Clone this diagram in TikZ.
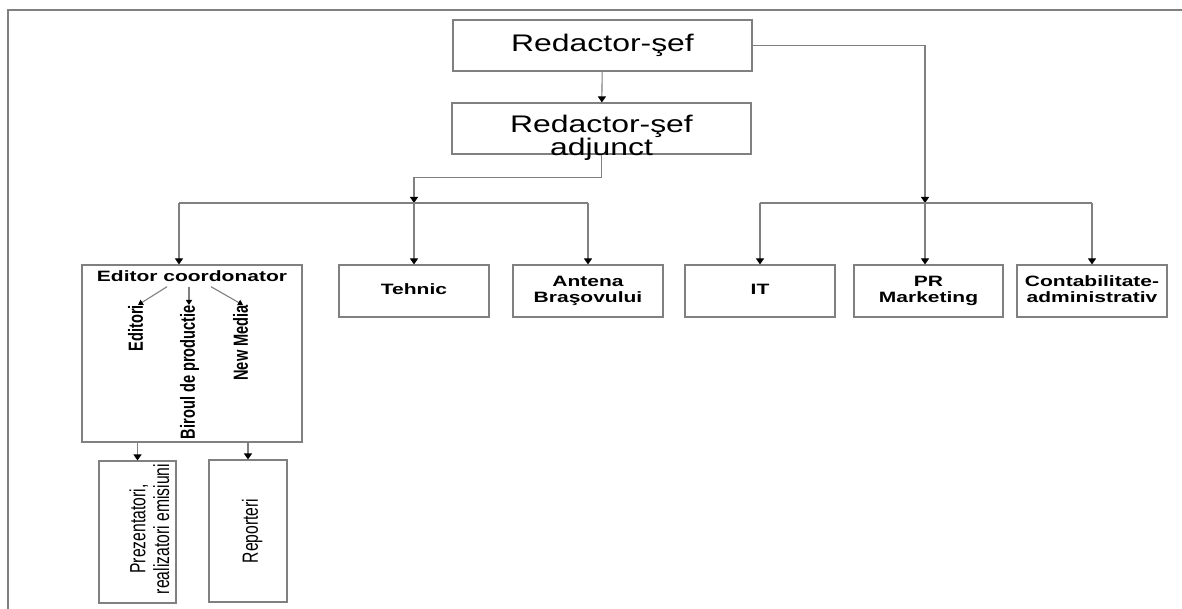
\documentclass[tikz,border=0pt]{standalone}
\usepackage{fontspec}
\setmainfont{Liberation Sans}
\usepackage{graphicx}
\usepackage{tikz}
\usetikzlibrary{arrows.meta}

\definecolor{linegray}{RGB}{128,128,128}
% text stretched sideways, and turned text
\newcommand{\wtxt}[2][1.4]{\scalebox{#1}[1]{\begin{tabular}{@{}c@{}}#2\end{tabular}}}
\newcommand{\vtxt}[1]{\rotatebox{90}{\scalebox{1}[1.4]{\begin{tabular}{@{}c@{}}#1\end{tabular}}}}

\begin{document}
\begin{tikzpicture}[x=1pt,y=-1pt,
  box/.style={draw=linegray, line width=1.1pt, inner sep=0pt, fill=white},
  big/.style={font=\fontsize{24}{21}\selectfont},
  mid/.style={font=\bfseries\fontsize{15}{16}\selectfont},
  tall/.style={font=\bfseries\fontsize{14.6}{17}\selectfont, inner sep=0pt},
  thin/.style={font=\fontsize{15.7}{17}\selectfont, inner sep=0pt},
  line/.style={draw=linegray, line width=1.1pt},
  arr/.style={line, -{Triangle[width=8pt,length=6pt,color=black]}},
  sarr/.style={line, -{Triangle[width=6pt,length=5pt,color=black]}}]
\useasboundingbox (0,0) rectangle (1182,609);

%Frame
\draw[line] (8,609) -- (8,10) -- (1182,10);

% Top boxes
\node[box, big, minimum width=299pt, minimum height=51pt] (sef) at (602.5,45.5) {\wtxt[1.33]{Redactor-şef}};
\node[box, minimum width=299pt, minimum height=51pt] (adj) at (601.5,128.5) {};
\node[big, inner sep=0pt, yshift=-10pt] (adjtxt) at (adj.center) {\wtxt[1.33]{Redactor-şef\\adjunct}};

% Second row
\node[box, minimum width=220pt, minimum height=177pt] (edit) at (192,353.5) {};
\node[box, mid, minimum width=150pt, minimum height=52pt] (tehnic) at (414,291) {\wtxt{Tehnic}};
\node[box, mid, minimum width=150pt, minimum height=52pt] (antena) at (588,291) {\wtxt{Antena\\Braşovului}};
\node[box, mid, minimum width=150pt, minimum height=52pt] (it) at (760,291) {\wtxt{IT}};
\node[box, mid, minimum width=149pt, minimum height=52pt] (pr) at (928.5,291) {\wtxt{PR\\Marketing}};
\node[box, mid, minimum width=150pt, minimum height=52pt] (contab) at (1092,291) {\wtxt{Contabilitate-\\administrativ}};

% Inside Editor coordonator
\node[mid, inner sep=0pt] (ectitle) at (192,278.5) {\wtxt{Editor coordonator}};
\node[tall, anchor=north] (edi) at (138,305) {\vtxt{Editori}};
\node[tall, anchor=north] (bir) at (190,305) {\vtxt{Biroul de productie}};
\node[tall, anchor=north] (nmed) at (243,305) {\vtxt{New Media}};

% Bottom boxes
\node[box, minimum width=77pt, minimum height=142pt] (pres) at (137.5,532) {};
\node[thin, xshift=15pt, yshift=3pt] (prestxt) at (pres.center) {\vtxt{Prezentatori,\\realizatori emisiuni}};
\node[box, minimum width=78pt, minimum height=142pt] (rep) at (248,531) {};
\node[thin, xshift=5pt] (reptxt) at (rep.center) {\vtxt{Reporteri}};

% Connectors
\coordinate (b1) at (179,203);
\coordinate (b2) at (925,203);
\draw[arr] (sef) -- (adj);
\draw[arr] (adj.south) -- ++(0,23) -| (tehnic.north |- b1);
\draw[line] (b1) -- (antena.north |- b1);
\draw[arr] (b1) -- (b1 |- edit.north);
\draw[arr] (tehnic.north |- b1) -- (tehnic.north);
\draw[arr] (antena.north |- b1) -- (antena.north);
\draw[arr] (sef.east) -| (b2);
\draw[line] (it.north |- b2) -- (contab.north |- b2);
\draw[arr] (it.north |- b2) -- (it.north);
\draw[arr] (b2) -- (b2 |- pr.north);
\draw[arr] (contab.north |- b2) -- (contab.north);
\draw[sarr] ([xshift=-25pt]ectitle.south) -- (edi.north);
\draw[sarr] ([xshift=-3pt]ectitle.south) -- ([xshift=-3pt]ectitle.south |- bir.north);
\draw[sarr] ([xshift=19pt]ectitle.south) -- (nmed.north);
\draw[arr] (pres.north |- edit.south) -- (pres.north);
\draw[arr] (rep.north |- edit.south) -- (rep.north);
\end{tikzpicture}
\end{document}
